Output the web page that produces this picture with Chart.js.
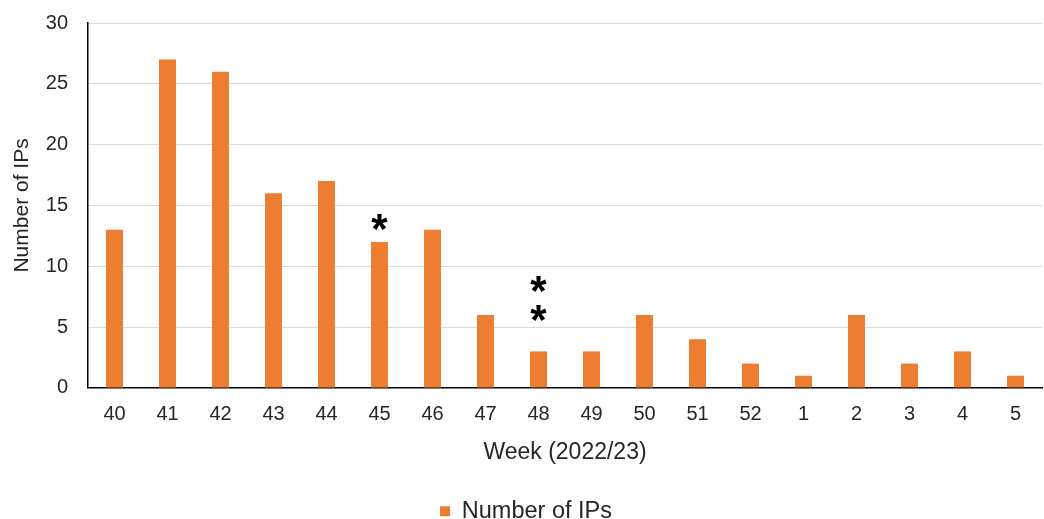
<!DOCTYPE html>
<html>
<head>
<meta charset="utf-8">
<script src="https://cdn.jsdelivr.net/npm/chart.js@4/dist/chart.umd.min.js"></script>
<style>
  html, body { margin: 0; padding: 0; background: #fff; }
  #wrap { width: 1044px; height: 519px; }
</style>
</head>
<body>
<div id="wrap"><canvas id="chart"></canvas></div>
<script>
// weeks of the 2022/23 season
var weeks = ['40', '41', '42', '43', '44', '45', '46', '47', '48', '49', '50', '51', '52', '1', '2', '3', '4', '5'];
var numberOfIPs = [13, 27, 26, 16, 17, 12, 13, 6, 3, 3, 6, 4, 2, 1, 6, 2, 3, 1];
// asterisks shown above some bars
var marks = ['', '', '', '', '', '*', '', '', '**', '', '', '', '', '', '', '', '', ''];
var yTicks = [0, 5, 10, 15, 20, 25, 30];

var orange = '#ED7D31';
var textColor = '#262626';
var font = "'Liberation Sans', Arial, sans-serif";

var markPlugin = {
    id: 'marks',
    afterDatasetsDraw: function(chart) {
        var ctx = chart.ctx;
        var meta = chart.getDatasetMeta(0);
        ctx.save();
        ctx.fillStyle = '#000';
        ctx.font = 'bold 42px ' + font;
        ctx.textAlign = 'center';
        ctx.textBaseline = 'middle';
        marks.forEach(function(m, i) {
            if (!m) return;
            var bar = meta.data[i];
            var gap = m.length > 1 ? 29 : 11;
            for (var k = 0; k < m.length; k++) {
                ctx.fillText('*', bar.x, bar.y - gap - k * 29);
            }
        });
        ctx.restore();
    }
};

var ctx = document.getElementById('chart').getContext('2d');
var chart = new Chart(ctx, {
    type: 'bar',
    data: {
        labels: weeks,
        datasets: [{
            label: 'Number of IPs',
            data: numberOfIPs,
            backgroundColor: orange,
            borderWidth: 0,
            barPercentage: 0.64,
            categoryPercentage: 0.5
        }]
    },
    options: {
        responsive: true,
        maintainAspectRatio: false,
        animation: false,
        layout: {
            padding: { left: 10, right: 2, top: 0, bottom: -14 }
        },
        plugins: {
            legend: {
                position: 'bottom',
                labels: {
                    boxWidth: 10,
                    boxHeight: 10,
                    padding: 0,
                    color: textColor,
                    font: { family: font, size: 23.5 }
                }
            },
            tooltip: { enabled: false }
        },
        scales: {
            x: {
                grid: { display: false, drawTicks: false },
                border: { color: '#000', width: 1.5 },
                ticks: {
                    color: textColor,
                    padding: 15,
                    maxRotation: 0,
                    font: { family: font, size: 20 }
                },
                title: {
                    display: true,
                    text: 'Week (2022/23)',
                    color: textColor,
                    padding: { top: -3, bottom: 33 },
                    font: { family: font, size: 23 }
                }
            },
            y: {
                min: 0,
                max: 30,
                afterBuildTicks: function(axis) {
                    axis.ticks = yTicks.map(function(v) { return { value: v }; });
                },
                afterFit: function(axis) {
                    axis.width = 78;
                    axis.paddingTop = 23;
                },
                grid: { color: '#d9d9d9', drawTicks: false },
                border: { color: '#000', width: 1.5 },
                ticks: {
                    color: textColor,
                    padding: 20,
                    font: { family: font, size: 20 }
                },
                title: {
                    display: true,
                    text: 'Number of IPs',
                    color: textColor,
                    padding: { top: 0, bottom: 0 },
                    font: { family: font, size: 21 }
                }
            }
        }
    },
    plugins: [markPlugin]
});
</script>
</body>
</html>
